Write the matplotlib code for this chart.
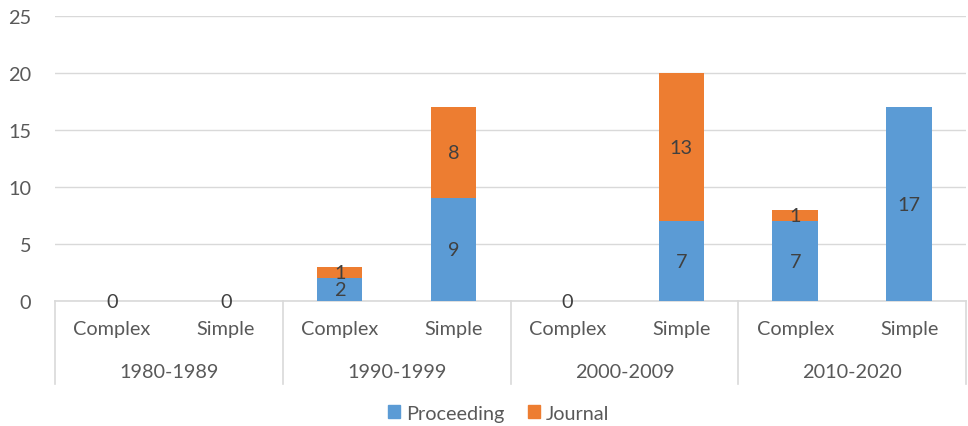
import matplotlib.pyplot as plt
from matplotlib.patches import Patch
import numpy as np

periods = ["1980-1989", "1990-1999", "2000-2009", "2010-2020"]
kinds = ["Complex", "Simple"]
proceeding = [0, 0, 2, 9, 0, 7, 7, 17]
journal = [None, None, 1, 8, None, 13, 1, None]

BLUE = "#5B9BD5"
ORANGE = "#ED7D31"
TEXT = "#595959"
GRID = "#D9D9D9"
FS = 14.3

plt.rcParams["font.family"] = ["Lato", "DejaVu Sans"]

fig = plt.figure(figsize=(9.68, 4.27), dpi=100)
ax = fig.add_axes([0.0568, 0.2927, 0.9412, 0.6673])

x = np.arange(len(proceeding))
jour = np.array([0 if v is None else v for v in journal], dtype=float)
prc = np.array(proceeding, dtype=float)

ax.bar(x, prc, width=0.4, color=BLUE, zorder=3)
ax.bar(x, jour, width=0.4, bottom=prc, color=ORANGE, zorder=3)

# segment value labels
for i in x:
    ax.text(i, prc[i] / 2, str(proceeding[i]), ha="center", va="center",
            fontsize=FS, color="#404040", zorder=4)
    if journal[i] is not None:
        ax.text(i, prc[i] + jour[i] / 2, str(journal[i]), ha="center",
                va="center", fontsize=FS, color="#404040", zorder=4)

ax.set_xlim(-0.5, len(x) - 0.5)
ax.set_ylim(0, 25)
ax.set_yticks(range(0, 26, 5))
ax.tick_params(axis="y", length=0, labelsize=FS, labelcolor=TEXT, pad=17)
ax.tick_params(axis="x", length=0, labelbottom=False)
ax.grid(axis="y", color=GRID, linewidth=1, zorder=0)
for side in ["top", "right", "left"]:
    ax.spines[side].set_visible(False)
ax.spines["bottom"].set_color(GRID)
ax.spines["bottom"].set_linewidth(1.2)

# two-level category axis
trans = ax.get_xaxis_transform()
for i in x:
    ax.text(i, -0.098, kinds[i % 2], transform=trans, ha="center",
            va="center", fontsize=FS, color=TEXT)
for g, name in enumerate(periods):
    ax.text(2 * g + 0.5, -0.246, name, transform=trans, ha="center",
            va="center", fontsize=FS, color=TEXT)
for b in np.arange(-0.5, len(x), 2):
    ax.plot([b, b], [0, -0.291], transform=trans, color=GRID,
            linewidth=1.2, clip_on=False)

handles = [Patch(color=BLUE, label="Proceeding"),
           Patch(color=ORANGE, label="Journal")]
fig.legend(handles=handles, loc="center", bbox_to_anchor=(0.515, 0.03),
           ncol=2, frameon=False, fontsize=FS, handlelength=0.6,
           handleheight=0.6, handletextpad=0.3, columnspacing=1.2,
           labelcolor=TEXT)

fig.savefig("out.png", dpi=100)
